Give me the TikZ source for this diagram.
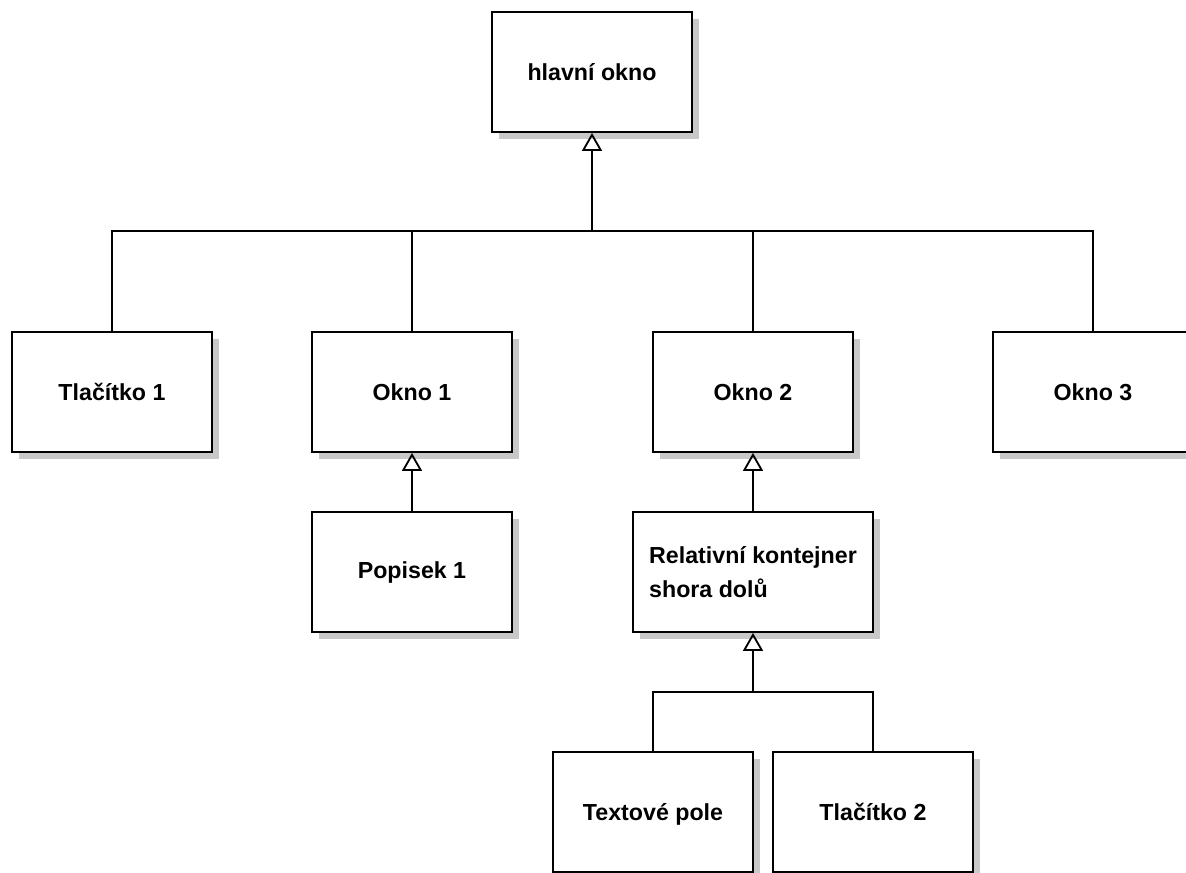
\documentclass[tikz,border=0pt]{standalone}
\usepackage{fontspec}
\setmainfont{Liberation Sans}
\usetikzlibrary{arrows.meta,shadows}
\definecolor{shadowGray}{RGB}{200,200,200}

\begin{document}
\begin{tikzpicture}[x=0.025cm, y=-0.025cm,
    box/.style={draw, line width=1.3pt, fill=white, minimum width=5cm, minimum height=3cm,
      font=\bfseries\fontsize{16.5}{24}\selectfont, align=left,
      drop shadow={shadow xshift=5pt, shadow yshift=-5pt, fill=shadowGray, opacity=1}},
    link/.style={line width=1.3pt},
    genline/.style={link, -{Triangle[open, width=0.5cm, length=0.45cm]}}]
  \useasboundingbox (0,0) rectangle (1186,873);
  \clip (0,0) rectangle (1186,873);

  \node[box] (main) at (592,72) {hlavní okno};
  \node[box] (tl1) at (112,392) {Tlačítko 1};
  \node[box] (okno1) at (412,392) {Okno 1};
  \node[box] (okno2) at (753,392) {Okno 2};
  \node[box] (okno3) at (1093,392) {Okno 3};
  \node[box] (pop1) at (412,572) {Popisek 1};
  \node[box, minimum width=6cm] (rel) at (753,572) {Relativní kontejner\\shora dolů};
  \node[box, text depth=0pt] (tpole) at (653,812) {Textové pole};
  \node[box] (tl2) at (873,812) {Tlačítko 2};

  \coordinate (bus) at (592,231);
  \coordinate (bus2) at (753,692);

  % hlavni okno
  \draw[link] (tl1.north) |- (bus);
  \draw[link] (okno1.north) |- (bus);
  \draw[link] (okno2.north) |- (bus);
  \draw[link] (okno3.north) |- (bus);
  \draw[genline] (bus) -- (main.south);

  \draw[genline] (pop1.north) -- (okno1.south);
  \draw[genline] (rel.north) -- (okno2.south);

  % kontejner
  \draw[link] (tpole.north) |- (bus2);
  \draw[link] (tl2.north) |- (bus2);
  \draw[genline] (bus2) -- (rel.south);
\end{tikzpicture}
\end{document}
